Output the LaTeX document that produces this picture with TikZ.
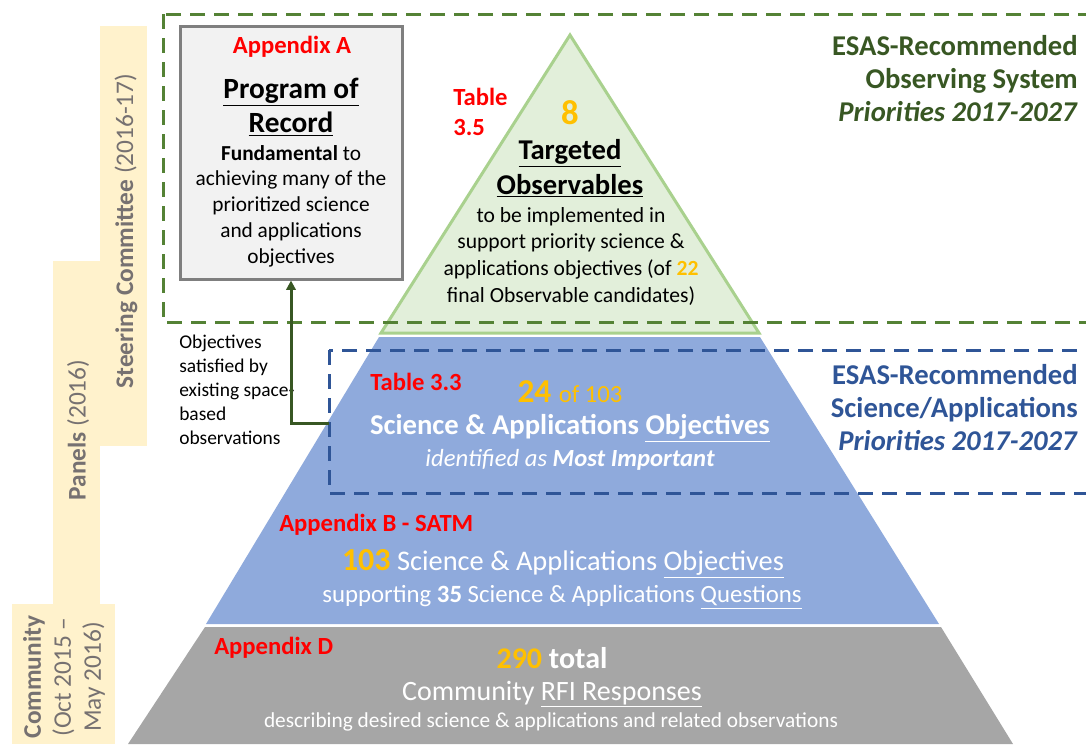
\documentclass[tikz,border=0pt]{standalone}
\usepackage{fontspec}
\setmainfont{Carlito}
\usetikzlibrary{arrows.meta}

\definecolor{barfill}{HTML}{FFF2CC}
\definecolor{phasegray}{HTML}{767171}
\definecolor{obsfill}{HTML}{E2EFDA}
\definecolor{obsline}{HTML}{A9D18E}
\definecolor{scifill}{HTML}{8FAADC}
\definecolor{rfifill}{HTML}{A6A6A6}
\definecolor{porfill}{HTML}{F2F2F2}
\definecolor{porline}{HTML}{7F7F7F}
\definecolor{esasgreen}{HTML}{548235}
\definecolor{esasgreentext}{HTML}{385723}
\definecolor{esasblue}{HTML}{2F5597}
\definecolor{countorange}{HTML}{FFC000}
\definecolor{refred}{HTML}{FF0000}

\newcommand{\fs}[2]{\fontsize{#1}{#2}\selectfont}

\tikzset{
  prioritybox/.style={line width=2.25pt, dash pattern=on 11pt off 7pt},
  phaselabel/.style={rotate=90, text=phasegray, font=\fs{19}{22.5}, align=center, inner sep=0pt},
  reflabel/.style={text=refred, font=\bfseries\fs{18.5}{23}, anchor=west, align=left, inner sep=0pt},
  tiertext/.style={text=white, align=center, inner sep=0pt},
  esaslabel/.style={font=\bfseries\fs{21.5}{24.75}, anchor=east, align=right, inner sep=0pt},
  linkarrow/.style={draw=esasgreentext, line width=2.25pt, -{Triangle[length=7pt,width=7pt]}},
}

\begin{document}
\begin{tikzpicture}[x=0.75pt,y=-0.75pt]
\useasboundingbox (0,0) rectangle (1086,744);
\clip (0,0) rectangle (1086,744);

% phase bars on the left
\fill[barfill] (100,26) rectangle (147,446);
\fill[barfill] (53,261) rectangle (100,604);
\fill[barfill] (12,604) rectangle (115,744);
\node[phaselabel] (steering) at (126,231) {\textbf{Steering Committee} (2016-17)};
\node[phaselabel] (panels) at (78,430) {\textbf{Panels} (2016)};
\node[phaselabel] (community) at (64,677) {\textbf{Community}\\(Oct 2015 --\\May 2016)};

% pyramid
\filldraw[fill=obsfill, draw=obsline, line width=2.25pt, line join=miter] (570,35) -- (759,333) -- (381,333) -- cycle;
\fill[scifill] (379,337) -- (760,337) -- (939,624) -- (206,624) -- cycle;
\fill[rfifill] (205,627) -- (941,627) -- (1013,744) -- (128,744) -- cycle;

% priority boxes
\draw[prioritybox, esasgreen] (163,14) rectangle (1100,322);
\draw[prioritybox, esasblue] (329,350) rectangle (1100,493);

% program of record
\node[draw=porline, fill=porfill, line width=2.25pt, minimum width=166.5pt, minimum height=189.75pt] (por) at (291,152.5) {};
\node[reflabel, anchor=center] (appa) at (292,47) {Appendix A};
\node[font=\bfseries\fs{22}{25.5}, align=center, inner sep=0pt] (portitle) at (291,107) {\underline{Program of}\\\underline{Record}};
\node[font=\fs{16}{19.3}, align=center, inner sep=0pt] (portext) at (291,206) {\textbf{Fundamental} to\\achieving many of the\\prioritized science\\and applications\\objectives};

% targeted observables
\node[reflabel] (tab35) at (453,112) {Table\\3.5};
\node[text=countorange, font=\bfseries\fs{26}{26}, inner sep=0pt] (obscount) at (570,113) {8};
\node[font=\bfseries\fs{21.5}{26}, align=center, inner sep=0pt] (obstitle) at (570,168.5) {\underline{Targeted}\\\underline{Observables}};
\node[font=\fs{16.2}{20}, align=center, inner sep=0pt] (obstext) at (571,256) {to be implemented in\\support priority science \&\\applications objectives (of \textcolor{countorange}{\textbf{22}}\\final Observable candidates)};

% science and applications objectives
\node[reflabel] (tab33) at (370,382) {Table 3.3};
\node[text=countorange, inner sep=0pt] (scicount) at (570,392) {\bfseries\fs{25}{26}24 \mdseries\fs{18.5}{22}of 103};
\node[tiertext, font=\bfseries\fs{21.5}{22}] (scititle) at (570,428) {Science \& Applications \underline{Objectives}};
\node[tiertext, font=\itshape\fs{18.5}{19}] (scisub) at (570,460) {identified as \textbf{Most Important}};
\node[reflabel] (appb) at (279,525) {Appendix B - SATM};
\node[tiertext, font=\fs{21.3}{22}] (satmtitle) at (563,564) {\textcolor{countorange}{\textbf{\fs{24}{22}103}} Science \& Applications \underline{Objectives}};
\node[tiertext, font=\fs{18.6}{19}] (satmtext) at (562,597) {supporting \textbf{35} Science \& Applications \underline{Questions}};

% community responses
\node[reflabel] (appd) at (214,648) {Appendix D};
\node[tiertext, font=\bfseries\fs{22.5}{24}] (rficount) at (552,658) {\textcolor{countorange}{290} total};
\node[tiertext, font=\fs{21}{22}] (rfititle) at (552,694) {Community \underline{RFI Responses}};
\node[tiertext, font=\fs{16}{16}] (rfitext) at (551,722) {describing desired science \& applications and related observations};

% right hand labels
\node[esaslabel, text=esasgreentext] (obsprio) at (1078,79) {ESAS-Recommended\\Observing System\\\textit{Priorities 2017-2027}};
\node[esaslabel, text=esasblue] (sciprio) at (1078,408) {ESAS-Recommended\\Science/Applications\\\textit{Priorities 2017-2027}};

% link to program of record
\node[font=\fs{14.6}{18}, align=left, anchor=west, inner sep=0pt] (satnote) at (179,390) {Objectives\\satisfied by\\existing space-\\based\\observations};
\coordinate (satlink) at (329,423);
\draw[linkarrow] (satlink) -| (por.south);

\end{tikzpicture}
\end{document}
